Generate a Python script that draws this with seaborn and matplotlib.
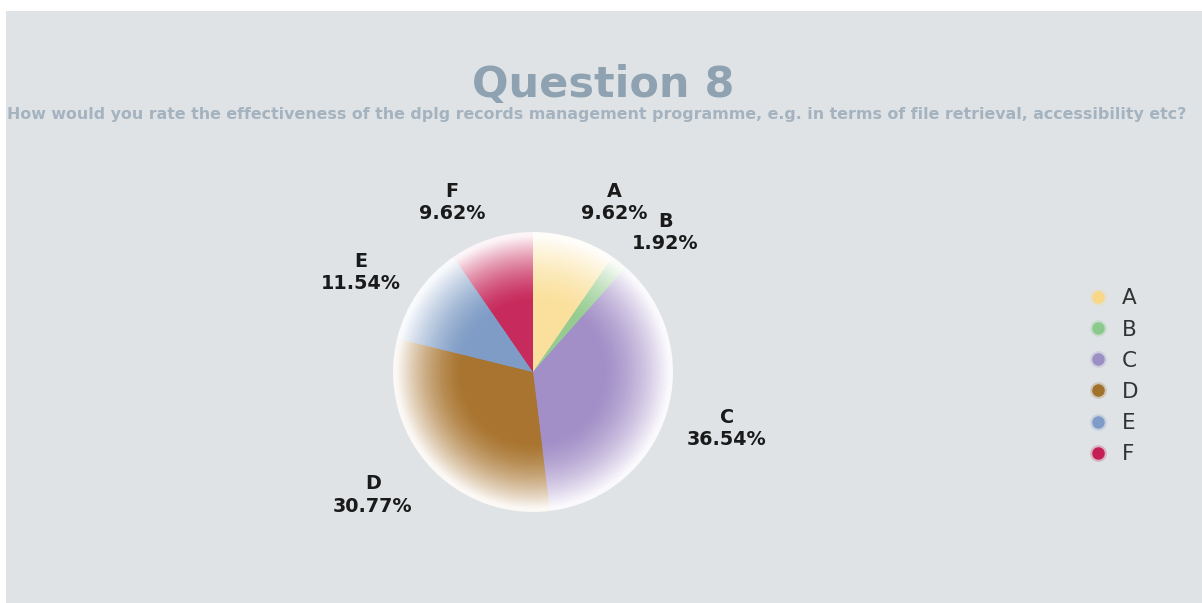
import numpy as np
import matplotlib
matplotlib.use("Agg")
import matplotlib.pyplot as plt
import matplotlib.colors as mcolors
import matplotlib.transforms as mtransforms
from matplotlib.lines import Line2D
from matplotlib.patches import Rectangle
import seaborn as sns

# ---- data ----
categories = ["A", "B", "C", "D", "E", "F"]
percentages = [9.62, 1.92, 36.54, 30.77, 11.54, 9.62]
title_text = "Question 8"
subtitle_text = ("How would you rate the effectiveness of the dplg records management "
                 "programme, e.g. in terms of file retrieval, accessibility etc?")

# ---- style ----
slice_colors = ["#FAE09C", "#96CC92", "#A38FC7", "#A8742F", "#7E9CC5", "#C72A5C"]
legend_colors = ["#F8D888", "#8CC98C", "#9C8FC4", "#A0722C", "#7F9CC9", "#C41E55"]
panel_color = "#DFE3E6"
title_color = "#8FA2B1"

sns.set_theme(style="white")
plt.rcParams["font.family"] = ["DejaVu Sans"]

W, H = 1202, 603
fig = plt.figure(figsize=(W / 100, H / 100), dpi=100, facecolor="white")
fig.patches.append(Rectangle((6 / W, 0), 1 - 6 / W, 1 - 11 / H,
                             transform=fig.transFigure, facecolor=panel_color,
                             edgecolor="none", zorder=-10))

# pie axes: centre (533, 372) px, radius 140 px
cx, cy, R = 533, 372, 140
ax = fig.add_axes([(cx - R) / W, (H - cy - R) / H, 2 * R / W, 2 * R / H])
ax.set_facecolor("none")
ax.set_zorder(2)

white = np.array([1.0, 1.0, 1.0])
base = [np.array(mcolors.to_rgb(c)) for c in slice_colors]

N = 50
radii = np.linspace(1.0, 0.35, N)
for i, r in enumerate(radii):
    t = np.clip((r - 0.5) / 0.48, 0, 1) ** 1.5 * 0.95
    cols = [tuple(b * (1 - t) + white * t) for b in base]
    ax.pie(percentages, colors=cols, radius=r, startangle=90, counterclock=False,
           wedgeprops=dict(linewidth=0, antialiased=True))

# labels
wedges, texts = ax.pie(percentages, colors=["none"] * 6, radius=0.35, startangle=90,
                       counterclock=False,
                       labels=[f"{c}\n{p:.2f}%" for c, p in zip(categories, percentages)],
                       labeldistance=1.15 / 0.35,
                       wedgeprops=dict(linewidth=0),
                       textprops=dict(fontsize=13.8, fontweight="bold", color="#1a1a1a",
                                      linespacing=1.22))
half_block = 20 / 100  # half label block height, inches
for t in texts:
    t.set_multialignment("center")
    x, y = t.get_position()
    s = y / np.hypot(x, y)
    t.set_transform(ax.transData +
                    mtransforms.ScaledTranslation(0, half_block * s - 0.03, fig.dpi_scale_trans))

ax.set_xlim(-1, 1)
ax.set_ylim(-1, 1)
ax.set_aspect("equal")
ax.axis("off")

# title & subtitle
fig.text(603 / W, 1 - 85 / H, title_text, ha="center", va="center", fontsize=31,
         fontweight="bold", color=title_color)
fig.text(597 / W, 1 - 115 / H, subtitle_text, ha="center", va="center", fontsize=11.4,
         fontweight="bold", color="#A4B3BF")

# legend
handles = [Line2D([], [], linestyle="none", marker="o", markersize=9,
                  markerfacecolor=c, markeredgecolor=mcolors.to_rgba(c, 0.25),
                  markeredgewidth=3) for c in legend_colors]
leg = fig.legend(handles, categories, loc="upper left",
                 bbox_to_anchor=(1066 / W, 1 - 269 / H), frameon=False,
                 fontsize=15.5, labelspacing=0.52, handletextpad=0.5, handlelength=1.2,
                 labelcolor="#333333")
leg.set_zorder(3)

fig.savefig("out.png", dpi=100, facecolor="white")
